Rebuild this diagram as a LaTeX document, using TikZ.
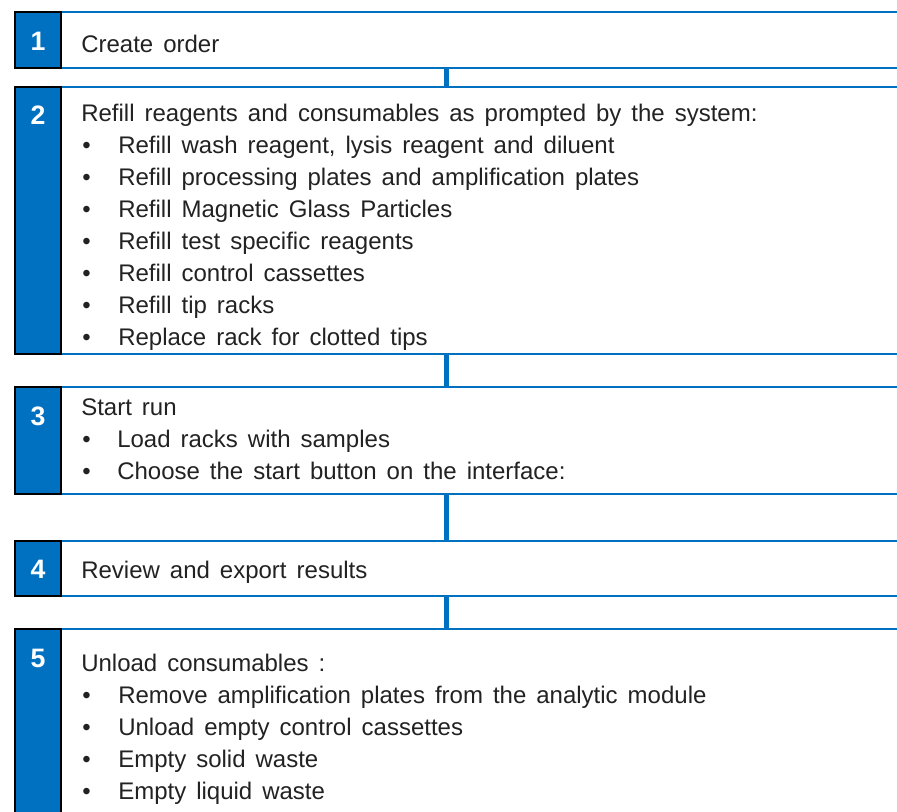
\documentclass[tikz,border=0pt]{standalone}
\usepackage{fontspec}
\setmainfont{Liberation Sans}[WordSpace=1.5]
\usetikzlibrary{fit}
\definecolor{stepblue}{HTML}{0070C0}
\definecolor{textc}{HTML}{222222}
\tikzset{
  numbox/.style={draw=black, fill=stepblue, line width=1.3pt, inner sep=0pt},
  contbox/.style={draw=stepblue, fill=white, line width=1.6pt, inner sep=0pt},
  numtxt/.style={anchor=base, inner sep=0pt, text=white, font=\fontsize{20}{24}\selectfont\bfseries},
  txt/.style={anchor=base west, inner sep=0pt, text=textc, font=\fontsize{18}{22}\selectfont},
  conn/.style={draw=stepblue, line width=3.8pt},
}
\begin{document}
\begin{tikzpicture}[x=0.75pt, y=-0.75pt]
\useasboundingbox (0,0) rectangle (897,812);
\coordinate (cx) at (446.5,0);
% boxes
\node[contbox, fit={(61,12) (920,68)}] (b1) {};
\node[numbox, fit={(15,12) (61,68)}] (n1) {};
\node[contbox, fit={(61,87) (920,354)}] (b2) {};
\node[numbox, fit={(15,87) (61,354)}] (n2) {};
\node[contbox, fit={(61,387) (920,494)}] (b3) {};
\node[numbox, fit={(15,387) (61,494)}] (n3) {};
\node[contbox, fit={(61,541) (920,596)}] (b4) {};
\node[numbox, fit={(15,541) (61,596)}] (n4) {};
\node[contbox, fit={(61,629) (920,830)}] (b5) {};
\node[numbox, fit={(15,629) (61,830)}] (n5) {};
% connectors
\draw[conn] (b1.south -| cx) -- (b2.north -| cx);
\draw[conn] (b2.south -| cx) -- (b3.north -| cx);
\draw[conn] (b3.south -| cx) -- (b4.north -| cx);
\draw[conn] (b4.south -| cx) -- (b5.north -| cx);
% numbers
\node[numtxt] (l1) at (38,51) {1};
\node[numtxt] (l2) at (38,125) {2};
\node[numtxt] (l3) at (38,426) {3};
\node[numtxt] (l4) at (38,579) {4};
\node[numtxt] (l5) at (38,668) {5};
% step 1
\node[txt] (t1) at (81,53) {Create order};
% step 2
\node[txt] (t2) at (81,122) {Refill reagents and consumables as prompted by the system:};
\foreach \y/\s [count=\i] in {154/{Refill wash reagent, lysis reagent and diluent},
  186/{Refill processing plates and amplification plates},
  218/{Refill Magnetic Glass Particles},
  250/{Refill test specific reagents},
  282/{Refill control cassettes},
  314/{Refill tip racks},
  346/{Replace rack for clotted tips}}{
  \node[txt] (t2d\i) at (82,\y) {•};
  \node[txt] (t2i\i) at (118,\y) {\s};
}
% step 3
\node[txt] (t3) at (81,416) {Start run};
\foreach \y/\s [count=\i] in {448/{Load racks with samples},
  480/{Choose the start button on the interface:}}{
  \node[txt] (t3d\i) at (82,\y) {•};
  \node[txt] (t3i\i) at (117,\y) {\s};
}
% step 4
\node[txt] (t4) at (81,579) {Review and export results};
% step 5
\node[txt] (t5) at (81,672) {Unload consumables :};
\foreach \y/\s [count=\i] in {704/{Remove amplification plates from the analytic module},
  736/{Unload empty control cassettes},
  768/{Empty solid waste},
  800/{Empty liquid waste}}{
  \node[txt] (t5d\i) at (82,\y) {•};
  \node[txt] (t5i\i) at (118,\y) {\s};
}
\end{tikzpicture}
\end{document}
